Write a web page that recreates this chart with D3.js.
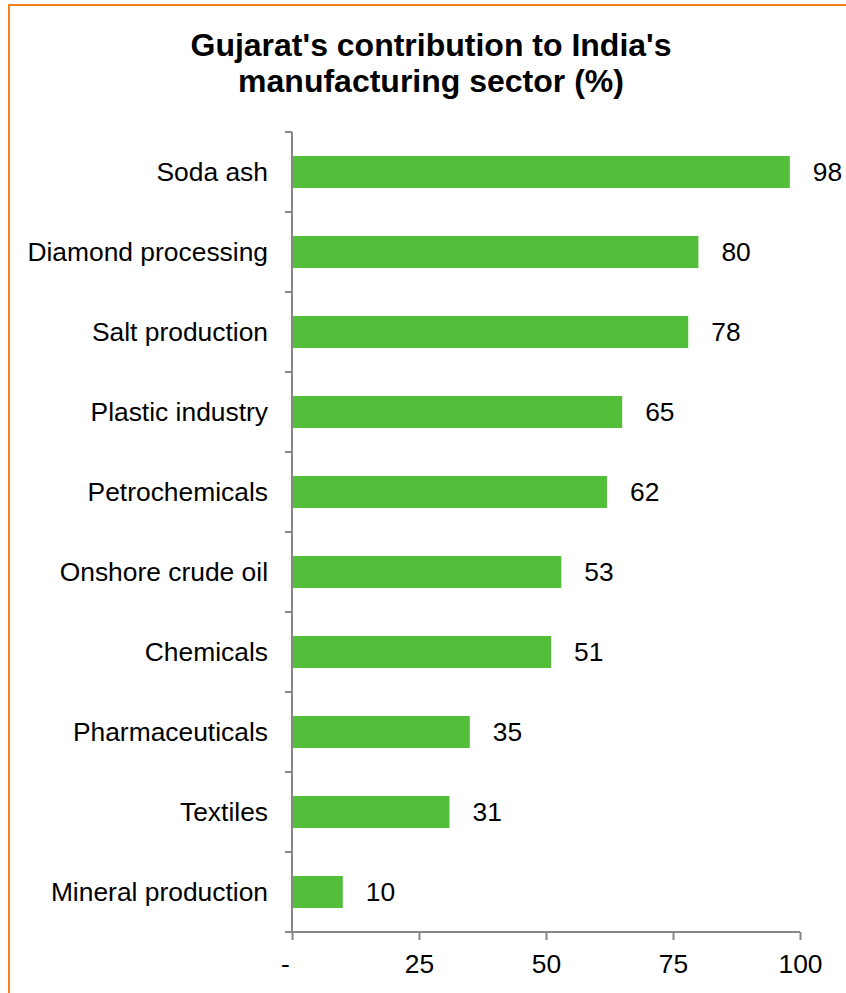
<!DOCTYPE html>
<html>
<head>
<meta charset="utf-8">
<script src="https://cdn.jsdelivr.net/npm/d3@7"></script>
<style>
  html, body { margin: 0; padding: 0; background: #ffffff; }
  svg { display: block; font-family: "Liberation Sans", Arial, sans-serif; }
</style>
</head>
<body>
<svg id="chart" width="846" height="993"></svg>
<script>
// Gujarat's share of national output, by industry (%)
const categories = [
  "Soda ash", "Diamond processing", "Salt production", "Plastic industry",
  "Petrochemicals", "Onshore crude oil", "Chemicals", "Pharmaceuticals",
  "Textiles", "Mineral production"
];
const shares = [98, 80, 78, 65, 62, 53, 51, 35, 31, 10];
const xTicks = [0, 25, 50, 75, 100];
const titleLines = ["Gujarat's contribution to India's", "manufacturing sector (%)"];

const svg = d3.select("#chart");
const W = 846, H = 993;
const plot = { left: 292, right: 800, top: 132, bottom: 932 };
const labelSize = 26.4;

// Frame
svg.append("rect")
  .attr("x", 9).attr("y", 5)
  .attr("width", W + 20).attr("height", H + 20)
  .attr("fill", "none")
  .attr("stroke", "#F5821F")
  .attr("stroke-width", 2);

// Title
svg.append("text")
  .attr("text-anchor", "middle")
  .attr("font-weight", "bold")
  .attr("font-size", 32)
  .attr("fill", "#000")
  .selectAll("tspan")
  .data(titleLines)
  .join("tspan")
  .attr("x", 431)
  .attr("y", (d, i) => 56 + i * 36)
  .text(d => d);

const x = d3.scaleLinear().domain([0, 100]).range([plot.left, plot.right]);
const y = d3.scaleBand().domain(categories).range([plot.top, plot.bottom]).paddingInner(0.6).paddingOuter(0.3);
const yTicks = d3.scaleBand().domain(categories).range([plot.top, plot.bottom]);

const data = categories.map((c, i) => ({ name: c, value: shares[i] }));

// Bars
svg.append("g")
  .selectAll("rect")
  .data(data)
  .join("rect")
  .attr("x", x(0))
  .attr("y", d => y(d.name))
  .attr("width", d => x(d.value) - x(0))
  .attr("height", y.bandwidth())
  .attr("fill", "#52BE3A");

// Value labels
svg.append("g")
  .selectAll("text")
  .data(data)
  .join("text")
  .attr("x", d => x(d.value) + 23)
  .attr("y", d => y(d.name) + y.bandwidth() / 2)
  .attr("dy", "0.35em")
  .attr("font-size", labelSize)
  .attr("fill", "#000")
  .text(d => d.value);

// Category axis: band boundaries as tick marks
const axisColor = "#868686";
const yAxis = svg.append("g");
yAxis.append("line")
  .attr("x1", plot.left).attr("x2", plot.left)
  .attr("y1", plot.top).attr("y2", plot.bottom)
  .attr("stroke", axisColor).attr("stroke-width", 2);
const bounds = categories.map(c => yTicks(c)).concat([plot.bottom]);
yAxis.selectAll("line.tick")
  .data(bounds)
  .join("line")
  .attr("class", "tick")
  .attr("x1", plot.left - 7).attr("x2", plot.left)
  .attr("y1", d => d).attr("y2", d => d)
  .attr("stroke", axisColor).attr("stroke-width", 2);
yAxis.selectAll("text")
  .data(categories)
  .join("text")
  .attr("x", plot.left - 24)
  .attr("y", d => yTicks(d) + yTicks.bandwidth() / 2)
  .attr("dy", "0.35em")
  .attr("text-anchor", "end")
  .attr("font-size", labelSize)
  .attr("fill", "#000")
  .text(d => d);

// Value axis
const xAxis = svg.append("g")
  .attr("transform", `translate(0,${plot.bottom})`)
  .call(d3.axisBottom(x)
    .tickValues(xTicks)
    .tickSize(8)
    .tickPadding(14)
    .tickFormat(d => d === 0 ? "-" : d));
xAxis.select(".domain").attr("stroke", axisColor).attr("stroke-width", 2)
  .attr("d", `M${plot.left},0H${plot.right}`);
xAxis.selectAll(".tick line").attr("stroke", axisColor).attr("stroke-width", 2);
xAxis.selectAll(".tick text")
  .attr("font-size", labelSize)
  .attr("font-family", "Liberation Sans, Arial, sans-serif")
  .attr("fill", "#000");
xAxis.selectAll(".tick").filter(d => d === 0).select("text").attr("dx", "-7");
</script>
</body>
</html>
